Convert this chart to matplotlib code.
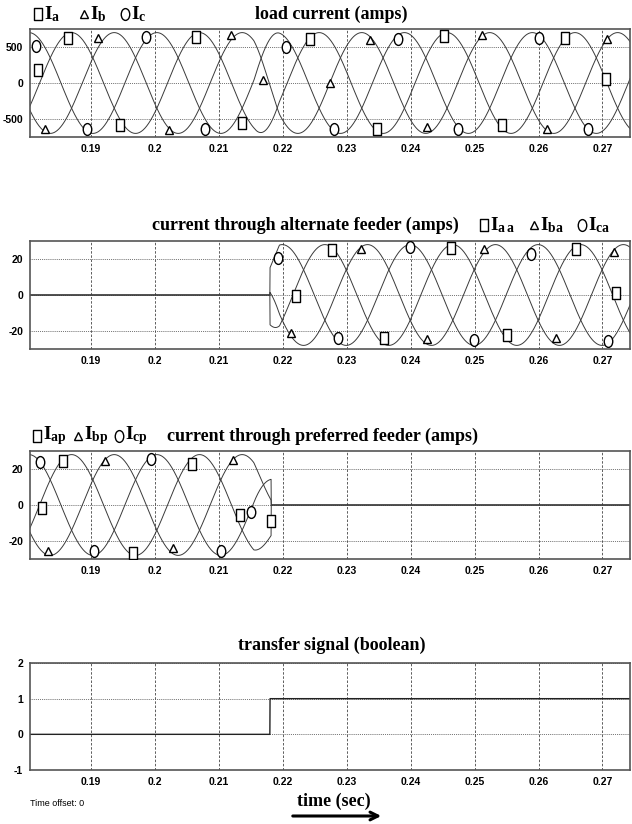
import numpy as np
import matplotlib
matplotlib.use("Agg")
import matplotlib.pyplot as plt
from matplotlib.path import Path
from matplotlib.lines import Line2D
from matplotlib.patches import FancyArrowPatch

plt.rcParams['mathtext.fontset'] = 'custom'
plt.rcParams['mathtext.rm'] = 'Liberation Serif:bold'
plt.rcParams['mathtext.it'] = 'Liberation Serif:bold'

# ---- waveform parameters ----
freq = 50.0               # Hz
load_amp = 700.0          # peak load current (A)
feeder_amp = 28.0         # peak feeder current (A)
pref_peak_a = 0.187       # time of an Ia peak, preferred feeder (and load before transfer)
alt_peak_a = 0.2266       # time of an Ia peak, alternate feeder
load_post_peak_a = 0.2257 # time of an Ia peak, load after transfer
t_collapse = 0.2155       # preferred feeder current starts collapsing
t_pref_off = 0.2182       # preferred feeder opened
t_transfer = 0.218        # transfer signal goes high / alternate closes
t_alt_settled = 0.2195
collapse_level = 0.65

x_ticks = [0.19, 0.20, 0.21, 0.22, 0.23, 0.24, 0.25, 0.26, 0.27]
x_tick_labels = ['0.19', '0.2', '0.21', '0.22', '0.23', '0.24', '0.25', '0.26', '0.27']
x_range = (0.1805, 0.2743)

# ---- phase markers (time, value) ----
load_a_t = [0.1818, 0.1865, 0.1945, 0.2064, 0.2136, 0.2243, 0.2347, 0.2453, 0.2543, 0.2642, 0.2706]
load_a_v = [185, 630, -588, 639, -551, 606, -644, 648, -588, 625, 55]
load_b_t = [0.1828, 0.1911, 0.2023, 0.2119, 0.2170, 0.2274, 0.2337, 0.2425, 0.2511, 0.2614, 0.2707]
load_b_v = [-634, 630, -657, 662, 46, 0, 593, -611, 662, -634, 616]
load_c_t = [0.1815, 0.1894, 0.1986, 0.2078, 0.2205, 0.2280, 0.2380, 0.2474, 0.2601, 0.2677]
load_c_v = [509, -640, 639, -640, 500, -640, 616, -640, 630, -640]

alt_a_t = [0.2221, 0.2277, 0.2359, 0.2463, 0.2551, 0.2658, 0.2721]
alt_a_v = [-0.6, 25, -24, 26, -22, 25.5, 1]
alt_b_t = [0.2213, 0.2323, 0.2425, 0.2515, 0.2628, 0.2718]
alt_b_v = [-21, 25.5, -24.7, 25.5, -23.8, 24]
alt_c_t = [0.2192, 0.2286, 0.2399, 0.2499, 0.2589, 0.2708]
alt_c_v = [20.8, -24, 26.4, -25, 23, -25.5]

pref_a_t = [0.1823, 0.1857, 0.1966, 0.2058, 0.2133, 0.2181]
pref_a_v = [-1.8, 24.5, -26.7, 23, -5.5, -8.7]
pref_b_t = [0.1833, 0.1923, 0.2029, 0.2123]
pref_b_v = [-25.8, 24.5, -24, 25]
pref_c_t = [0.1820, 0.1905, 0.1994, 0.2104, 0.2150]
pref_c_v = [24, -25.8, 25.8, -25.8, -3.7]

t = np.linspace(0.1795, 0.2745, 6000)
period = 1.0 / freq
shifts = [0.0, period / 3, 2 * period / 3]   # a, b, c

# preferred feeder: normal, collapses, then zero
k_pref = np.ones_like(t)
m = (t >= t_collapse) & (t < t_pref_off)
k_pref[m] = 1 - (1 - collapse_level) * (t[m] - t_collapse) / (t_pref_off - t_collapse)
k_pref[t >= t_pref_off] = 0.0
# alternate feeder: zero, then builds up to full
k_alt = np.zeros_like(t)
m = (t >= t_transfer) & (t < t_alt_settled)
k_alt[m] = collapse_level + (1 - collapse_level) * (t[m] - t_transfer) / (t_alt_settled - t_transfer)
k_alt[t >= t_alt_settled] = 1.0

pref = [feeder_amp * k_pref * np.cos(2 * np.pi * freq * (t - pref_peak_a - s)) for s in shifts]
alt = [feeder_amp * k_alt * np.cos(2 * np.pi * freq * (t - alt_peak_a - s)) for s in shifts]

# load: supplied by preferred feeder, then handed over to the alternate one
w_post = np.clip((t - t_collapse) / (t_alt_settled - t_collapse), 0, 1)
load = [load_amp * ((1 - w_post) * np.cos(2 * np.pi * freq * (t - pref_peak_a - s))
                    + w_post * np.cos(2 * np.pi * freq * (t - load_post_peak_a - s))) for s in shifts]
transfer = np.where(t >= t_transfer, 1.0, 0.0)

# tall open markers like the ones pasted on the scope print
box_marker = Path([(-0.36, -0.5), (0.36, -0.5), (0.36, 0.5), (-0.36, 0.5), (-0.36, -0.5)],
                  [Path.MOVETO, Path.LINETO, Path.LINETO, Path.LINETO, Path.CLOSEPOLY])
circ = Path.unit_circle()
oval_marker = Path(circ.vertices * [0.72, 1.0], circ.codes)
tri_marker = '^'
box_ms, tri_ms, oval_ms = 8, 5.5, 8.5

tick_font = dict(family=['Liberation Sans Narrow', 'Liberation Sans', 'DejaVu Sans'],
                 weight='bold', size=7.5)
title_font = dict(family=['Liberation Serif', 'DejaVu Serif'], weight='bold', size=13)

fig = plt.figure(figsize=(6.32, 8.24), dpi=100)
W, H = 632.0, 824.0
panel_px = [(29, 137), (241, 349), (451, 559), (663, 770)]
axes = []
for top, bot in panel_px:
    ax = fig.add_axes([30 / W, 1 - bot / H, 600 / W, (bot - top) / H])
    axes.append(ax)


def style_axis(ax, yticks, ylim):
    ax.set_xlim(*x_range)
    ax.set_ylim(*ylim)
    ax.set_xticks(x_ticks)
    ax.set_xticklabels(x_tick_labels, **tick_font)
    ax.set_yticks(yticks)
    ax.set_yticklabels([str(v) for v in yticks], **tick_font)
    ax.tick_params(length=0, pad=5)
    for x in x_ticks:
        ax.axvline(x, color='#444444', lw=0.6, ls=(0, (3, 2)), zorder=0)
    for y in yticks:
        ax.axhline(y, color='#444444', lw=0.6, ls=(0, (1, 1.3)), zorder=0)
    for sp in ax.spines.values():
        sp.set_color('#555555')
        sp.set_linewidth(1.2)


def draw_marks(ax, ts, vs, marker, size):
    ax.plot(ts, vs, ls='none', marker=marker, ms=size, mfc='white', mec='black', mew=1.0, zorder=5)


wave_style = dict(color='#3a3a3a', lw=0.7)

# load current
ax = axes[0]
style_axis(ax, [-500, 0, 500], (-750, 750))
for w in load:
    ax.plot(t, w, **wave_style)
draw_marks(ax, load_a_t, load_a_v, box_marker, box_ms)
draw_marks(ax, load_b_t, load_b_v, tri_marker, tri_ms)
draw_marks(ax, load_c_t, load_c_v, oval_marker, oval_ms)

# alternate feeder
ax = axes[1]
style_axis(ax, [-20, 0, 20], (-30, 30))
for w in alt:
    ax.plot(t, w, **wave_style)
draw_marks(ax, alt_a_t, alt_a_v, box_marker, box_ms)
draw_marks(ax, alt_b_t, alt_b_v, tri_marker, tri_ms)
draw_marks(ax, alt_c_t, alt_c_v, oval_marker, oval_ms)

# preferred feeder
ax = axes[2]
style_axis(ax, [-20, 0, 20], (-30, 30))
for w in pref:
    ax.plot(t, w, **wave_style)
draw_marks(ax, pref_a_t, pref_a_v, box_marker, box_ms)
draw_marks(ax, pref_b_t, pref_b_v, tri_marker, tri_ms)
draw_marks(ax, pref_c_t, pref_c_v, oval_marker, oval_ms)

# transfer signal
ax = axes[3]
style_axis(ax, [-1, 0, 1, 2], (-1, 2))
ax.plot(t, transfer, color='#222222', lw=1.0)

# titles
fig.text(331 / W, 1 - 14 / H, 'load current (amps)', ha='center', va='center', **title_font)
fig.text(305 / W, 1 - 225 / H, 'current through alternate feeder (amps)', ha='center', va='center', **title_font)
fig.text(323 / W, 1 - 436 / H, 'current through preferred feeder (amps)', ha='center', va='center', **title_font)
fig.text(332 / W, 1 - 645 / H, 'transfer signal (boolean)', ha='center', va='center', **title_font)


def legend_entry(x_px, y_px, marker, size, label):
    fig.add_artist(Line2D([x_px / W], [1 - y_px / H], transform=fig.transFigure, ls='none',
                          marker=marker, ms=size, mfc='white', mec='black', mew=1.0))
    fig.text((x_px + 6) / W, 1 - y_px / H, label, ha='left', va='center', size=14)


legend_entry(38, 14, box_marker, box_ms, r'$\mathrm{I_a}$')
legend_entry(84, 14, tri_marker, tri_ms, r'$\mathrm{I_b}$')
legend_entry(125, 14, oval_marker, oval_ms, r'$\mathrm{I_c}$')

legend_entry(484, 225, box_marker, box_ms, r'$\mathrm{I_{a\,a}}$')
legend_entry(534, 225, tri_marker, tri_ms, r'$\mathrm{I_{ba}}$')
legend_entry(582, 225, oval_marker, oval_ms, r'$\mathrm{I_{ca}}$')

legend_entry(37, 436, box_marker, box_ms, r'$\mathrm{I_{ap}}$')
legend_entry(78, 436, tri_marker, tri_ms, r'$\mathrm{I_{bp}}$')
legend_entry(119, 436, oval_marker, oval_ms, r'$\mathrm{I_{cp}}$')

# footer
fig.text(30 / W, 1 - 804 / H, 'Time offset: 0', ha='left', va='center',
         family=['Liberation Sans Narrow', 'Liberation Sans', 'DejaVu Sans'], size=6.5)
fig.text(334 / W, 1 - 801 / H, 'time (sec)', ha='center', va='center', **title_font)
fig.add_artist(FancyArrowPatch((290 / W, 1 - 816 / H), (384 / W, 1 - 816 / H),
                               transform=fig.transFigure, arrowstyle='->',
                               mutation_scale=14, lw=2.2, color='black'))

fig.savefig('out.png', dpi=100)
